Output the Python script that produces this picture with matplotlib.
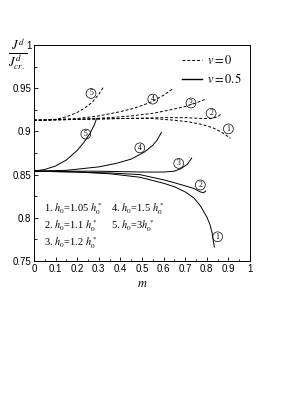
import matplotlib
matplotlib.use("Agg")
import matplotlib.pyplot as plt
from matplotlib.lines import Line2D

plt.rcParams["mathtext.fontset"] = "stix"

# v = 0 (dashed) curves
m_d1 = [0, 0.2, 0.4, 0.55, 0.65, 0.72, 0.78, 0.83, 0.87, 0.91]
J_d1 = [0.913, 0.914, 0.915, 0.915, 0.913, 0.911, 0.908, 0.904, 0.899, 0.892]
m_d2 = [0, 0.2, 0.4, 0.6, 0.7, 0.78, 0.82, 0.85, 0.87]
J_d2 = [0.913, 0.914, 0.915, 0.916, 0.916, 0.915, 0.915, 0.917, 0.921]
m_d3 = [0, 0.2, 0.35, 0.45, 0.55, 0.63, 0.7, 0.75, 0.79]
J_d3 = [0.913, 0.914, 0.916, 0.918, 0.921, 0.925, 0.929, 0.933, 0.937]
m_d4 = [0, 0.1, 0.2, 0.3, 0.4, 0.45, 0.5, 0.55, 0.6, 0.64]
J_d4 = [0.913, 0.914, 0.915, 0.918, 0.923, 0.926, 0.930, 0.935, 0.942, 0.949]
m_d5 = [0, 0.05, 0.1, 0.15, 0.2, 0.24, 0.27, 0.3, 0.32]
J_d5 = [0.913, 0.913, 0.914, 0.917, 0.922, 0.928, 0.934, 0.943, 0.951]

# v = 0.5 (solid) curves
m_s1 = [0, 0.2, 0.35, 0.49, 0.6, 0.65, 0.7, 0.74, 0.77, 0.8, 0.815, 0.825, 0.835]
J_s1 = [0.854, 0.853, 0.851, 0.847, 0.840, 0.836, 0.830, 0.823, 0.814, 0.801, 0.792, 0.782, 0.766]
m_s2 = [0, 0.2, 0.35, 0.49, 0.6, 0.645, 0.7, 0.74, 0.77, 0.785, 0.795]
J_s2 = [0.854, 0.853, 0.852, 0.850, 0.844, 0.841, 0.837, 0.834, 0.830, 0.829, 0.831]
m_s3 = [0, 0.3, 0.5, 0.6, 0.65, 0.68, 0.71, 0.73]
J_s3 = [0.854, 0.854, 0.853, 0.853, 0.854, 0.857, 0.862, 0.869]
m_s4 = [0, 0.15, 0.3, 0.38, 0.45, 0.51, 0.55, 0.57, 0.59]
J_s4 = [0.854, 0.855, 0.859, 0.863, 0.868, 0.876, 0.884, 0.890, 0.899]
m_s5 = [0, 0.05, 0.1, 0.15, 0.2, 0.23, 0.26, 0.28, 0.29]
J_s5 = [0.854, 0.856, 0.860, 0.867, 0.878, 0.887, 0.898, 0.908, 0.915]

dashed = [(m_d1, J_d1), (m_d2, J_d2), (m_d3, J_d3), (m_d4, J_d4), (m_d5, J_d5)]
solid = [(m_s1, J_s1), (m_s2, J_s2), (m_s3, J_s3), (m_s4, J_s4), (m_s5, J_s5)]

# circled curve numbers
labels = ["1", "2", "3", "4", "5"]
lab_dashed = [(0.90, 0.903), (0.82, 0.921), (0.727, 0.933), (0.55, 0.9375), (0.264, 0.944)]
lab_solid = [(0.85, 0.778), (0.77, 0.838), (0.67, 0.863), (0.49, 0.881), (0.24, 0.897)]

x_ticks = [0, 0.1, 0.2, 0.3, 0.4, 0.5, 0.6, 0.7, 0.8, 0.9, 1]
x_ticklabels = ["0", "0.1", "0.2", "0.3", "0.4", "0.5", "0.6", "0.7", "0.8", "0.9", "1"]
y_ticks = [0.75, 0.8, 0.85, 0.9, 0.95, 1]
y_ticklabels = ["0.75", "0.8", "0.85", "0.9", "0.95", "1"]

fig = plt.figure(figsize=(3.06, 3.96), dpi=100)
ax = fig.add_axes([0.111, 0.341, 0.706, 0.545])

for m, J in dashed:
    ax.plot(m, J, color="black", lw=0.7, linestyle=(0, (3, 2)))
for m, J in solid:
    ax.plot(m, J, color="black", lw=0.7)

circ = dict(boxstyle="circle,pad=0.12", fc="none", ec="black", lw=0.5)
for lab, (x, y) in zip(labels, lab_dashed):
    ax.text(x, y, lab, fontsize=5.5, family="Liberation Serif", ha="center", va="center", bbox=circ)
for lab, (x, y) in zip(labels, lab_solid):
    ax.text(x, y, lab, fontsize=5.5, family="Liberation Serif", ha="center", va="center", bbox=circ)

ax.set_xlim(0, 1)
ax.set_ylim(0.75, 1)
ax.set_xticks(x_ticks)
ax.set_xticklabels(x_ticklabels, family="Liberation Sans", fontsize=7)
ax.set_yticks(y_ticks)
ax.set_yticklabels(y_ticklabels, family="Liberation Sans", fontsize=7)
ax.set_xticks([0.05 + 0.1 * i for i in range(10)], minor=True)
ax.set_yticks([0.775, 0.825, 0.875, 0.925, 0.975], minor=True)
ax.tick_params(which="both", direction="in", top=False, right=False, width=0.6)
ax.tick_params(which="major", length=3, pad=2)
ax.tick_params(which="minor", length=1.8)
for sp in ax.spines.values():
    sp.set_linewidth(0.7)

ax.set_xlabel("$m$", fontsize=9, labelpad=2)
fig.text(0.058, 0.862, r"$\frac{J^d}{J^d_{cr.}}$", fontsize=13, ha="center", va="center")

handles = [Line2D([], [], color="black", lw=0.7, linestyle=(0, (3, 2))),
           Line2D([], [], color="black", lw=1.0)]
ax.legend(handles, [r"$v=0$", r"$v=0.5$"], loc="upper right", frameon=False,
          fontsize=9, handlelength=1.6, handletextpad=0.4, borderaxespad=0.3,
          labelspacing=0.4)

tx = dict(fontsize=7.5, family="Liberation Serif", va="center")
ax.text(0.045, 0.81, r"1. $h_0$=1.05 $h^*_0$", **tx)
ax.text(0.355, 0.81, r"4. $h_0$=1.5 $h^*_0$", **tx)
ax.text(0.045, 0.7905, r"2. $h_0$=1.1 $h^*_0$", **tx)
ax.text(0.355, 0.7905, r"5. $h_0$=3$h^*_0$", **tx)
ax.text(0.045, 0.771, r"3. $h_0$=1.2 $h^*_0$", **tx)

fig.savefig("out.png", dpi=100)
